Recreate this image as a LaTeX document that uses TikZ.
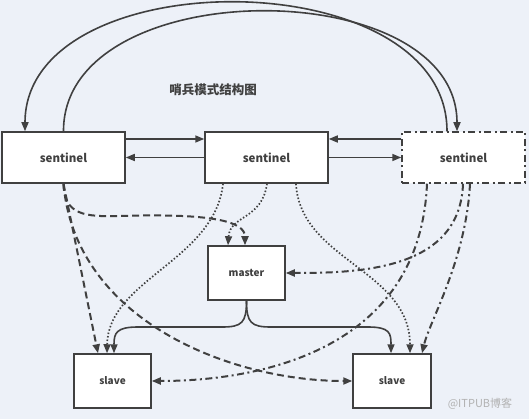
\documentclass[tikz,border=0pt]{standalone}
\usepackage{fontspec}
\setmainfont{Noto Sans CJK SC}
\usetikzlibrary{arrows.meta}

\definecolor{bg}{RGB}{237,241,248}
\definecolor{ink}{RGB}{64,64,64}

\begin{document}
\begin{tikzpicture}[x=1pt, y=-1pt,
    box/.style={draw=ink, line width=1.5pt, fill=white, minimum width=123pt, minimum height=51pt,
                font=\fontsize{11.5}{13}\selectfont\bfseries, text=ink},
    smallbox/.style={box, minimum width=77pt, minimum height=54pt, font=\fontsize{10}{12}\selectfont\bfseries},
    tip/.style={-{Triangle[length=9pt,width=7pt]}},
    solidlink/.style={tip, draw=ink, line width=1.6pt},
    dashlink/.style={tip, draw=ink, line width=2pt, dash pattern=on 7pt off 4pt},
    dotlink/.style={tip, draw=ink, line width=1.7pt, dash pattern=on 1.5pt off 2pt},
    dotdashlink/.style={tip, draw=ink, line width=2pt, dash pattern=on 7pt off 3.5pt on 2pt off 3.5pt}]

    \useasboundingbox (0,0) rectangle (529,419);
    \fill[bg] (0,0) rectangle (529,419);

    % title and watermark
    \node[font=\fontsize{12.5}{14}\selectfont\bfseries, text=ink] (title) at (213,90) {哨兵模式结构图};
    \node[font=\fontsize{11}{13}\selectfont, text=black!30] (mark) at (480,404) {@ITPUB博客};

    % sentinels
    \node[box] (s1) at (63.5,157.5) {sentinel};
    \node[box] (s2) at (266.5,157.5) {sentinel};
    \node[box, dash pattern=on 7pt off 3.5pt on 2pt off 3.5pt] (s3) at (463.5,157.5) {sentinel};

    % master and slaves
    \node[smallbox] (master) at (246.5,273) {master};
    \node[smallbox] (slaveL) at (112.5,381) {slave};
    \node[smallbox, minimum width=78pt] (slaveR) at (392,381) {slave};

    % sentinels talking to each other
    \draw[solidlink] ([yshift=18.5pt]s1.east) -- ([yshift=18.5pt]s2.west);
    \draw[solidlink] (s2.west) -- (s1.east);
    \draw[solidlink] ([yshift=18.5pt]s3.west) -- ([yshift=18.5pt]s2.east);
    \draw[solidlink] (s2.east) -- (s3.west);
    \draw[solidlink] ([xshift=-16.5pt]s3.north) .. controls (447,-40) and (25,-40) .. ([xshift=-38.5pt]s1.north);
    \draw[solidlink] (s1.north) .. controls (63,-28) and (457,-28) .. ([xshift=-6.5pt]s3.north);

    % left sentinel
    \draw[dashlink] (s1.south) -- ([xshift=-14.5pt]slaveL.north);
    \draw[dashlink] (s1.south) .. controls (75,320) and (230,381) .. (slaveR.west);
    \draw[dashlink] (s1.south) .. controls (64,215) and (85,217) .. (120,216)
        .. controls (215,213) and (245,222) .. ([xshift=-1.5pt]master.north);

    % middle sentinel
    \draw[dotlink] ([xshift=-43.5pt]s2.south) .. controls (215,260) and (108,280) .. ([xshift=-5.5pt]slaveL.north);
    \draw[dotlink] ([xshift=0.5pt]s2.south) .. controls (262,220) and (230,215) .. ([xshift=-18.5pt]master.north);
    \draw[dotlink] ([xshift=29.5pt]s2.south) .. controls (300,260) and (410,270) .. ([xshift=18pt]slaveR.north);

    % right sentinel
    \draw[dotdashlink] ([xshift=-36.5pt]s3.south) .. controls (420,350) and (260,381) .. (slaveL.east);
    \draw[dotdashlink] ([xshift=-0.5pt]s3.south) .. controls (460,270) and (360,273) .. (master.east);
    \draw[dotdashlink] ([xshift=6.5pt]s3.south) .. controls (466,260) and (430,320) .. ([xshift=30pt]slaveR.north);

    % replication
    \draw[solidlink] (master.south) .. controls +(0,22) and +(20,0) .. (222,327) -- (138,327)
        .. controls +(-22,0) and +(0,-20) .. ([xshift=1.5pt]slaveL.north);
    \draw[solidlink] (master.south) .. controls +(0,22) and +(-20,0) .. (271,327) -- (368,327)
        .. controls +(22,0) and +(0,-20) .. ([xshift=-1pt]slaveR.north);
\end{tikzpicture}
\end{document}
